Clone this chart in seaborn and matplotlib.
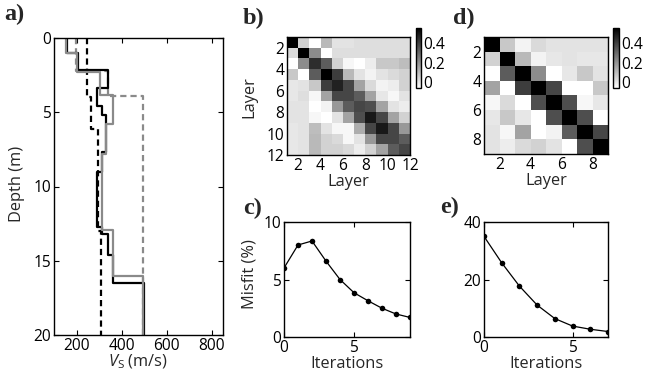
import numpy as np
import pandas as pd
import matplotlib
matplotlib.use("Agg")
import matplotlib.pyplot as plt
import seaborn as sns

# ---------------- data ----------------
# Panel a: layered Vs profiles (layer bottom depth in m, Vs in m/s)
gray_solid_bot = [1.0, 2.3, 3.85, 5.8, 7.8, 12.9, 16.0, 20.0]
gray_solid_vs = [155, 200, 305, 360, 330, 315, 360, 493]
black_solid_bot = [1.0, 2.15, 3.4, 4.6, 5.2, 7.7, 9.0, 12.7, 13.2, 14.6, 16.5, 20.0]
black_solid_vs = [158, 208, 340, 292, 312, 330, 312, 290, 315, 340, 362, 498]
black_dash_bot = [4.0, 6.1, 13.0, 20.0]
black_dash_vs = [248, 265, 295, 307]
gray_dash_bot = [2.2, 3.9, 20.0]
gray_dash_vs = [198, 340, 493]

# Panel b: 11x11 cells (layers 1..12 boundaries)
res_b = [
    [0.56, 0.05, -0.06, 0.11, 0.01, 0.01, 0.02, 0.02, 0.02, 0.02, 0.02],
    [0.03, 0.56, 0.22, -0.06, 0.02, 0.02, 0.02, 0.02, 0.02, 0.02, 0.02],
    [-0.06, 0.22, 0.45, 0.335, 0.05, -0.04, -0.06, -0.015, 0.075, 0.075, 0.10],
    [0.075, -0.06, 0.335, 0.56, 0.41, 0.11, 0.01, -0.03, 0.01, 0.03, 0.05],
    [0.00, 0.01, 0.075, 0.41, 0.48, 0.39, 0.165, 0.03, -0.03, -0.015, 0.05],
    [0.00, 0.02, -0.04, 0.165, 0.39, 0.39, 0.335, 0.165, 0.00, -0.04, 0.01],
    [0.01, 0.01, -0.06, -0.03, 0.19, 0.335, 0.39, 0.37, 0.165, 0.01, -0.015],
    [0.01, 0.01, -0.04, -0.06, 0.01, 0.165, 0.37, 0.50, 0.39, 0.165, 0.05],
    [0.00, 0.01, 0.10, 0.01, -0.04, -0.04, 0.14, 0.39, 0.50, 0.39, 0.19],
    [0.00, 0.01, 0.11, 0.05, 0.03, -0.04, 0.01, 0.19, 0.39, 0.39, 0.335],
    [0.00, 0.01, 0.11, 0.05, 0.05, 0.03, -0.015, 0.05, 0.165, 0.335, 0.39],
]
# Panel d: 8x8 cells (layers 1..9 boundaries)
res_d = [
    [0.56, 0.075, -0.03, 0.03, 0.01, 0.01, 0.01, 0.01],
    [0.05, 0.56, 0.11, -0.03, 0.00, 0.01, 0.00, 0.00],
    [-0.06, 0.335, 0.56, 0.22, -0.06, 0.00, 0.075, 0.01],
    [0.165, -0.06, 0.41, 0.56, 0.39, -0.06, -0.06, 0.075],
    [-0.04, 0.03, -0.06, 0.37, 0.56, 0.37, -0.04, 0.00],
    [0.00, 0.075, 0.00, -0.06, 0.37, 0.56, 0.37, -0.06],
    [0.01, -0.04, 0.165, -0.06, -0.03, 0.335, 0.56, 0.39],
    [0.01, -0.015, 0.03, 0.05, 0.01, -0.06, 0.37, 0.56],
]
b_ticklabels = ["2", "4", "6", "8", "10", "12"]
d_ticklabels = ["2", "4", "6", "8"]
cbar_ticks = [0, 0.2, 0.4]
cbar_ticklabels = ["0", "0.2", "0.4"]

# Panels c, e: misfit vs iterations
iter_c = [0, 1, 2, 3, 4, 5, 6, 7, 8, 9]
misfit_c = [6.0, 8.0, 8.35, 6.6, 5.0, 3.85, 3.15, 2.5, 2.0, 1.7]
iter_e = [0, 1, 2, 3, 4, 5, 6, 7]
misfit_e = [35.0, 25.8, 17.7, 11.1, 6.4, 3.8, 2.7, 1.9]

# ---------------- style ----------------
sns.set_theme(style="white")
plt.rcParams["font.family"] = ["Open Sans", "DejaVu Sans"]
plt.rcParams["font.size"] = 11
plt.rcParams["mathtext.fontset"] = "custom"
plt.rcParams["mathtext.rm"] = "Open Sans"
plt.rcParams["mathtext.it"] = "Open Sans:italic"
plt.rcParams["axes.edgecolor"] = "black"
plt.rcParams["axes.linewidth"] = 1.0
plt.rcParams["xtick.color"] = "black"
plt.rcParams["ytick.color"] = "black"

TS = 11.2   # tick label size
LS = 11.8   # axis label size

W, H = 645, 380
fig = plt.figure(figsize=(W / 100, H / 100), dpi=100)


def pos(l, t, r, b):
    return [l / W, 1 - b / H, (r - l) / W, (b - t) / H]


def steps(bots, vs):
    tops = [0.0] + list(bots[:-1])
    xs, ys = [], []
    for t, b, v in zip(tops, bots, vs):
        xs += [v, v]
        ys += [t, b]
    return xs, ys


def matlab_ticks(ax):
    ax.tick_params(direction="in", length=3.5, width=0.8, top=True, right=True,
                   labelsize=TS, pad=2, bottom=True, left=True)


gray = "#8a8a8a"
dash = (0, (2.8, 1.8))

# ---------------- panel a ----------------
axa = fig.add_axes(pos(54, 38, 223, 335))
for bots, vs, col, ls in [
    (gray_dash_bot, gray_dash_vs, gray, dash),
    (black_dash_bot, black_dash_vs, "black", dash),
    (black_solid_bot, black_solid_vs, "black", "-"),
    (gray_solid_bot, gray_solid_vs, gray, "-"),
]:
    xs, ys = steps(bots, vs)
    sns.lineplot(x=xs, y=ys, sort=False, estimator=None, ax=axa, color=col,
                 linewidth=1.6, linestyle=ls)
axa.set_xlim(100, 850)
axa.set_ylim(20, 0)
axa.set_xticks([200, 400, 600, 800])
axa.set_yticks([0, 5, 10, 15, 20])
axa.set_xlabel(r"$V_\mathrm{S}$ (m/s)", fontsize=LS, labelpad=-1)
axa.set_ylabel("Depth (m)", fontsize=LS)
axa.yaxis.set_label_coords(-0.17, 0.51)
matlab_ticks(axa)

# ---------------- panel b ----------------
axb = fig.add_axes(pos(287, 37, 410, 155))
caxb = fig.add_axes(pos(416, 28, 421, 88))
sns.heatmap(np.array(res_b), ax=axb, cbar_ax=caxb, cmap="gray_r", vmin=-0.06, vmax=0.56,
            xticklabels=False, yticklabels=False)
axb.set_xticks([1, 3, 5, 7, 9, 11])
axb.set_xticklabels(b_ticklabels, rotation=0)
axb.set_yticks([1, 3, 5, 7, 9, 11])
axb.set_yticklabels(b_ticklabels, rotation=0)
axb.set_xlabel("Layer", fontsize=LS, labelpad=0)
axb.set_ylabel("Layer", fontsize=LS)
axb.yaxis.set_label_coords(-0.24, 0.49)

# ---------------- panel d ----------------
axd = fig.add_axes(pos(484, 37, 608, 154))
caxd = fig.add_axes(pos(613, 28, 619, 88))
sns.heatmap(np.array(res_d), ax=axd, cbar_ax=caxd, cmap="gray_r", vmin=-0.06, vmax=0.56,
            xticklabels=False, yticklabels=False)
axd.set_xticks([1, 3, 5, 7])
axd.set_xticklabels(d_ticklabels, rotation=0)
axd.set_yticks([1, 3, 5, 7])
axd.set_yticklabels(d_ticklabels, rotation=0)
axd.set_xlabel("Layer", fontsize=LS, labelpad=0)

for ax, cax in [(axb, caxb), (axd, caxd)]:
    for s in ax.spines.values():
        s.set_visible(True)
        s.set_linewidth(1.0)
        s.set_color("black")
    ax.tick_params(length=0, labelsize=TS, pad=2)
    cax.set_yticks(cbar_ticks)
    cax.set_yticklabels(cbar_ticklabels)
    cax.tick_params(length=0, labelsize=TS, pad=1.5)
    cb = ax.collections[0].colorbar
    cb.outline.set_visible(True)
    cb.outline.set_edgecolor("black")
    cb.outline.set_linewidth(1.0)

# ---------------- panel c ----------------
axc = fig.add_axes(pos(284, 222, 410, 337))
sns.lineplot(x=iter_c, y=misfit_c, ax=axc, color="black", linewidth=0.9,
             marker="o", markersize=4, markeredgewidth=0)
axc.set_xlim(0, 9)
axc.set_ylim(0, 10)
axc.set_xticks([0, 5])
axc.set_yticks([0, 5, 10])
axc.set_xlabel("Iterations", fontsize=LS, labelpad=0)
axc.set_ylabel("Misfit (%)", fontsize=LS)
axc.yaxis.set_label_coords(-0.21, 0.55)
matlab_ticks(axc)

# ---------------- panel e ----------------
axe = fig.add_axes(pos(484, 222, 608, 337))
sns.lineplot(x=iter_e, y=misfit_e, ax=axe, color="black", linewidth=0.9,
             marker="o", markersize=4, markeredgewidth=0)
axe.set_xlim(0, 7)
axe.set_ylim(0, 40)
axe.set_xticks([0, 5])
axe.set_yticks([0, 20, 40])
axe.set_xlabel("Iterations", fontsize=LS, labelpad=0)
matlab_ticks(axe)

for ax in [axa, axc, axe]:
    for s in ax.spines.values():
        s.set_visible(True)
        s.set_color("black")
        s.set_linewidth(1.0)

# ---------------- panel letters ----------------
lab = dict(fontfamily="Liberation Serif", fontweight="bold", fontsize=17.5, va="center", ha="left")
fig.text(4 / W, 1 - 14 / H, "a)", **lab)
fig.text(243 / W, 1 - 18 / H, "b)", **lab)
fig.text(453 / W, 1 - 18 / H, "d)", **lab)
fig.text(243 / W, 1 - 208 / H, "c)", **lab)
fig.text(440 / W, 1 - 207 / H, "e)", **lab)

fig.savefig("out.png", dpi=100)
